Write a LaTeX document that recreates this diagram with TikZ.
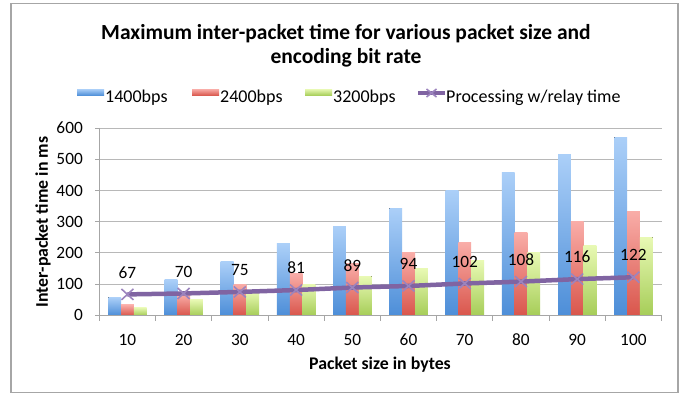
\documentclass[tikz,border=0pt]{standalone}
\usepackage{fontspec}
\setmainfont{Carlito}
\definecolor{bluetop}{HTML}{ABCFF8}
\definecolor{bluebot}{HTML}{4D8ED8}
\definecolor{redtop}{HTML}{F9ADA8}
\definecolor{redbot}{HTML}{D9564C}
\definecolor{greentop}{HTML}{E8F9B4}
\definecolor{greenbot}{HTML}{A6CD58}
\definecolor{lineviolet}{HTML}{8064A2}
\definecolor{markviolet}{HTML}{9C84BE}
\definecolor{framegray}{HTML}{A6A6A6}
\definecolor{gridgray}{HTML}{B8B8B8}
\begin{document}
\begin{tikzpicture}[x=1pt,y=-1pt,
  framebox/.style={draw=framegray,line width=1.2pt},
  gridline/.style={draw=gridgray,line width=0.9pt},
  axisline/.style={draw=gridgray!90!black,line width=0.9pt},
  bluebar/.style={top color=bluetop,bottom color=bluebot,draw=none},
  redbar/.style={top color=redtop,bottom color=redbot,draw=none},
  greenbar/.style={top color=greentop,bottom color=greenbot,draw=none},
  procline/.style={draw=lineviolet,line width=4.5pt},
  xmark/.style={draw=markviolet,line width=1.6pt},
  ticklab/.style={font=\fontsize{17.3}{19}\selectfont,inner sep=0pt},
  datalab/.style={font=\fontsize{17.3}{19}\selectfont,inner sep=0pt},
  legtext/.style={font=\fontsize{18}{20}\selectfont,inner sep=0pt,anchor=base west},
  axtitle/.style={font=\fontsize{17.8}{20}\selectfont\bfseries,inner sep=0pt},
  charttitle/.style={font=\fontsize{21.5}{24}\selectfont\bfseries,inner sep=0pt,align=center}
]
\useasboundingbox (0,0) rectangle (686,397);
\fill[white] (0,0) rectangle (686,397);
\draw[framebox] (11,3.3) rectangle (678,392.7);

% title
\node[charttitle] (title) at (346,45.5) {Maximum inter-packet time for various packet size and\\encoding bit rate};

% legend
\fill[bluebar] (77,89) rectangle (104,95.5);
\node[legtext] (leg1) at (105,102) {1400bps};
\fill[redbar] (192,89) rectangle (219,95.5);
\node[legtext] (leg2) at (220,102) {2400bps};
\fill[greenbar] (305,89) rectangle (332,95.5);
\node[legtext] (leg3) at (333,102) {3200bps};
\coordinate (lgA) at (418,93);
\coordinate (lgB) at (445,93);
\coordinate (lgM) at (431.5,93);
\draw[procline,line width=3.5pt] (lgA) -- (lgB);
\draw[xmark] (lgM) +(-5,-4) -- +(5,4) +(-5,4) -- +(5,-4);
\node[legtext] (leg4) at (446,102) {Processing w/relay time};

% grid and y ticks
\foreach \v in {100,200,300,400,500,600}{
  \draw[gridline] (99.3,{315.3-\v*0.312}) -- (661.5,{315.3-\v*0.312});
}
\foreach \v in {0,100,200,300,400,500,600}{
  \draw[axisline] (95,{315.3-\v*0.312}) -- (99.3,{315.3-\v*0.312});
  \node[ticklab,anchor=east] (yt\v) at (83,{315.3-\v*0.312}) {\v};
}

% bars
\foreach \i in {1,...,10}{
  \pgfmathsetmacro{\cx}{99.3+56.22*(\i-1)}
  \pgfmathsetmacro{\vb}{10*\i*8/1.4}
  \pgfmathsetmacro{\vr}{10*\i*8/2.4}
  \pgfmathsetmacro{\vg}{10*\i*8/3.2}
  \fill[bluebar] (\cx+9,{315.3-\vb*0.312}) rectangle (\cx+21.8,315.3);
  \fill[redbar] (\cx+21.8,{315.3-\vr*0.312}) rectangle (\cx+34.6,315.3);
  \fill[greenbar] (\cx+34.6,{315.3-\vg*0.312}) rectangle (\cx+47.4,315.3);
}

% axes
\draw[axisline] (99.3,127.8) -- (99.3,315.3);
\draw[axisline] (99.3,315.3) -- (661.5,315.3);
\foreach \i in {0,...,10}{
  \draw[axisline] ({99.3+56.22*\i},315.3) -- ({99.3+56.22*\i},320.5);
}
\foreach \i in {1,...,10}{
  \pgfmathtruncatemacro{\lab}{10*\i}
  \node[ticklab] (xt\i) at ({99.3+56.22*(\i-0.5)},340) {\lab};
}

% processing line
\foreach \i/\v in {1/67,2/70,3/75,4/81,5/89,6/94,7/102,8/108,9/116,10/122}{
  \coordinate (p\i) at ({99.3+56.22*(\i-0.5)},{315.3-\v*0.312});
}
\draw[procline] (p1) -- (p2) -- (p3) -- (p4) -- (p5) -- (p6) -- (p7) -- (p8) -- (p9) -- (p10);
\foreach \i/\v in {1/67,2/70,3/75,4/81,5/89,6/94,7/102,8/108,9/116,10/122}{
  \draw[xmark] (p\i) +(-6,-5.5) -- +(6,5.5) +(-6,5.5) -- +(6,-5.5);
  \node[datalab] (d\i) at ([yshift=22pt]p\i) {\v};
}

% axis titles
\node[axtitle,rotate=90] (ytitle) at (43,222) {Inter-packet time in ms};
\node[axtitle] (xtitle) at (380,365) {Packet size in bytes};
\end{tikzpicture}
\end{document}
